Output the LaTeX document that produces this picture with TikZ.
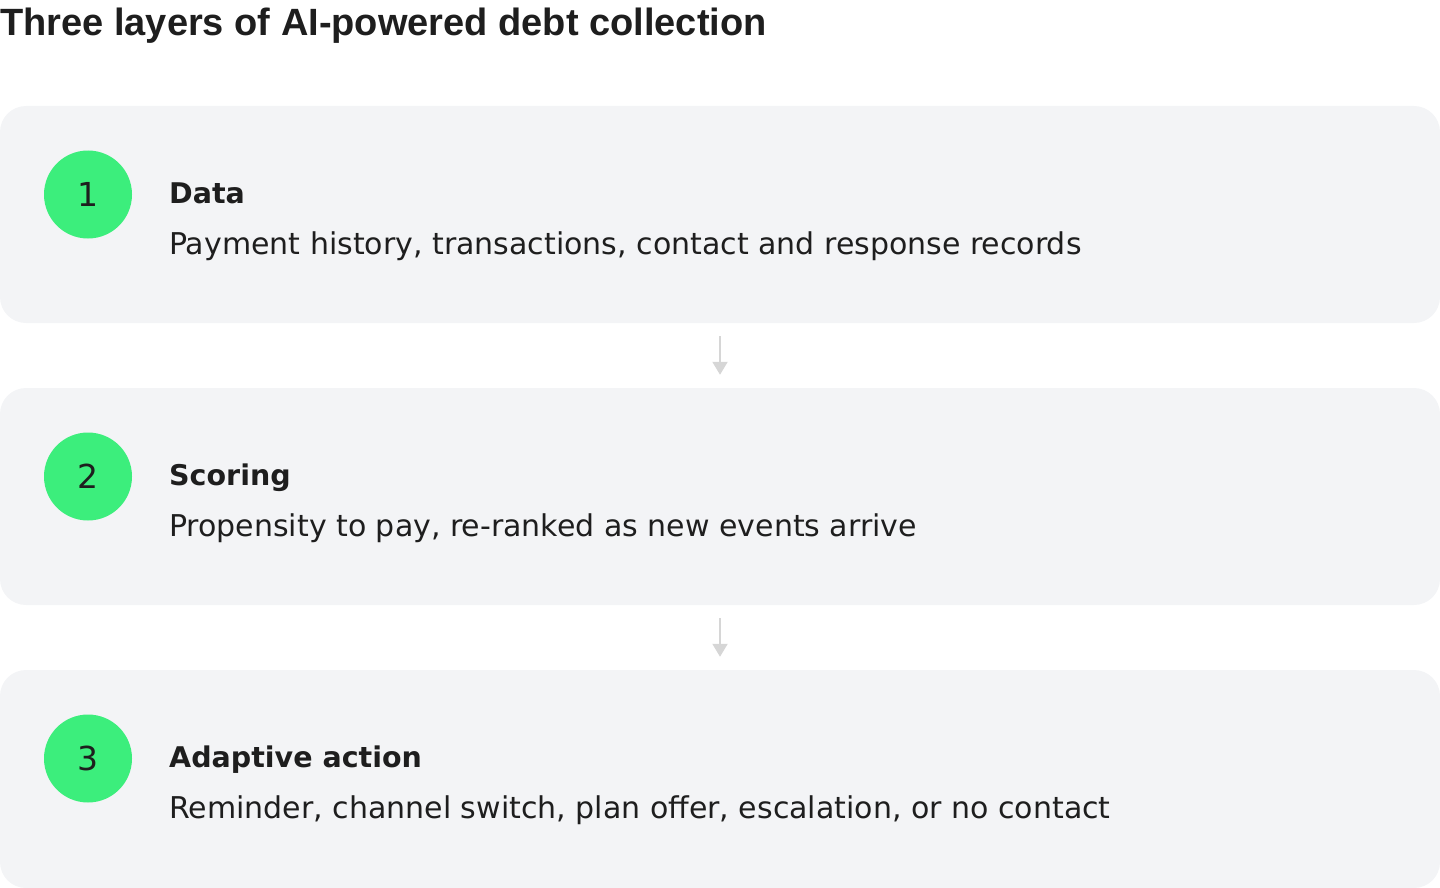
\documentclass[tikz,border=0pt]{standalone}
\usepackage{fontspec}
\setmainfont{DejaVu Sans}
\newfontfamily\titlefont{Liberation Sans}
\newfontfamily\numfont{DejaVu Sans}
\usetikzlibrary{arrows.meta}
\definecolor{boxfill}{HTML}{F3F4F6}
\definecolor{badge}{HTML}{3CEE7C}
\definecolor{ink}{HTML}{1E1E1E}
\definecolor{arrowgray}{HTML}{D6D6D6}
\tikzset{
  layerbox/.style={fill=boxfill, draw=none, rounded corners=26pt, minimum width=1440pt, minimum height=217pt, inner sep=0pt},
  badgecirc/.style={circle, fill=badge, minimum size=88pt, inner sep=0pt, text=ink, font=\numfont\fontsize{33pt}{38pt}\selectfont},
  headtext/.style={anchor=base west, text=ink, inner sep=0pt, font=\fontsize{28.5pt}{34pt}\selectfont\bfseries},
  desctext/.style={anchor=base west, text=ink, inner sep=0pt, font=\fontsize{30pt}{36pt}\selectfont},
  flowarrow/.style={draw=arrowgray, line width=2pt, -{Triangle[width=15pt,length=13pt]}},
}
\begin{document}
\begin{tikzpicture}[x=1pt,y=-1pt]
\useasboundingbox (0,0) rectangle (1440,888);
\node[anchor=base west, inner sep=0pt, text=ink, font=\titlefont\fontsize{38pt}{46pt}\selectfont\bfseries] (title) at (0,36) {Three layers of AI-powered debt collection};

\node[layerbox] (b1) at (720,214.5) {};
\node[layerbox] (b2) at (720,496.5) {};
\node[layerbox, minimum height=218pt] (b3) at (720,779) {};

\node[badgecirc] (c1) at (88,194.5) {1};
\node[badgecirc] (c2) at (88,476.5) {2};
\node[badgecirc] (c3) at (88,758.5) {3};

\node[headtext] (h1) at (169,203) {Data};
\node[desctext] (d1) at (169,254) {Payment history, transactions, contact and response records};
\node[headtext] (h2) at (169,485) {Scoring};
\node[desctext] (d2) at (169,536) {Propensity to pay, re-ranked as new events arrive};
\node[headtext] (h3) at (169,767) {Adaptive action};
\node[desctext] (d3) at (169,818) {Reminder, channel switch, plan offer, escalation, or no contact};

\draw[flowarrow] ([yshift=-13pt]b1.south) -- ([yshift=13pt]b2.north);
\draw[flowarrow] ([yshift=-13pt]b2.south) -- ([yshift=13pt]b3.north);
\end{tikzpicture}
\end{document}
